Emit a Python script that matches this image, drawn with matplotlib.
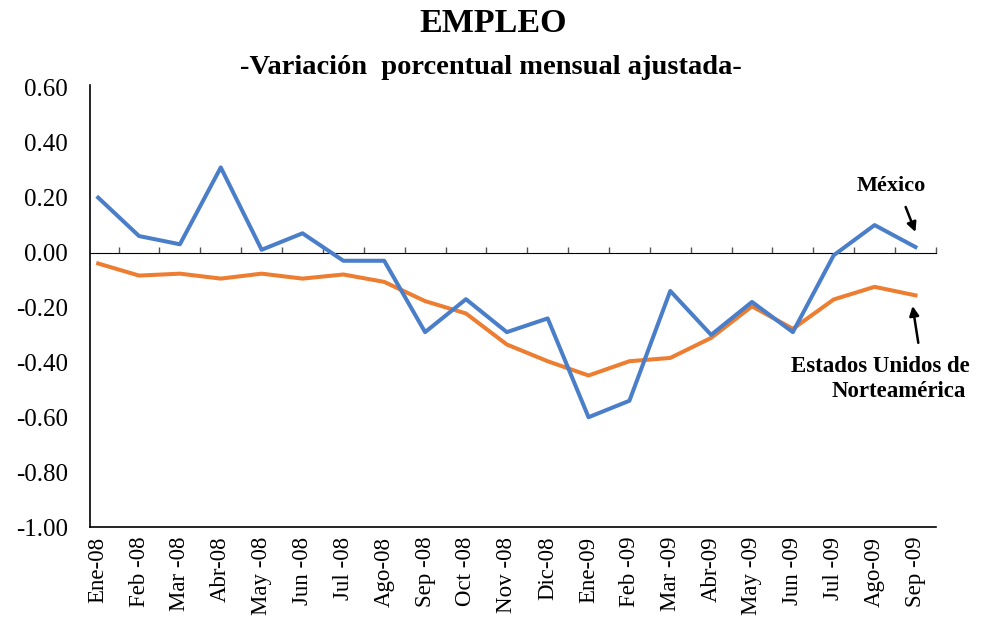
import matplotlib
matplotlib.use("Agg")
import matplotlib.pyplot as plt

plt.rcParams["font.family"] = "Liberation Serif"

# Monthly labels (Ene-08 .. Sep-09)
months = ["Ene-08", "Feb -08", "Mar -08", "Abr-08", "May -08", "Jun -08",
          "Jul -08", "Ago-08", "Sep -08", "Oct -08", "Nov -08", "Dic-08",
          "Ene-09", "Feb -09", "Mar -09", "Abr-09", "May -09", "Jun -09",
          "Jul -09", "Ago-09", "Sep -09"]

# Adjusted monthly percentage change in employment
mexico = [0.20, 0.06, 0.03, 0.31, 0.01, 0.07, -0.03, -0.03, -0.29, -0.17,
          -0.29, -0.24, -0.60, -0.54, -0.14, -0.30, -0.18, -0.29, -0.01,
          0.10, 0.02]
usa = [-0.04, -0.084, -0.077, -0.095, -0.077, -0.095, -0.08, -0.107, -0.177,
       -0.222, -0.335, -0.396, -0.448, -0.396, -0.384, -0.311, -0.196, -0.278,
       -0.171, -0.125, -0.156]

yticks = [0.60, 0.40, 0.20, 0.00, -0.20, -0.40, -0.60, -0.80, -1.00]

fig = plt.figure(figsize=(9.87, 6.26), dpi=100)
ax = fig.add_axes([0.0912, 0.1581, 0.857, 0.706])

x = list(range(len(months)))
ax.plot(x, mexico, color="#4A7EC9", lw=2.9, zorder=3)
ax.plot(x, usa, color="#ED7D31", lw=2.9, zorder=2)

ymin, ymax = -1.0, 0.61
ax.set_ylim(ymin, ymax)
ax.set_xlim(-0.2, 20.5)

# y axis
ax.set_yticks(yticks)
ax.set_yticklabels([f"{v:.2f}" for v in yticks], fontsize=18)
ax.tick_params(axis="y", length=0, pad=16)

# category labels at the bottom
ax.set_xticks(x)
ax.set_xticklabels(months, rotation=90, fontsize=16.5)
ax.tick_params(axis="x", length=0, pad=7)

for side in ["top", "right"]:
    ax.spines[side].set_visible(False)
ax.spines["left"].set_linewidth(1.2)
ax.spines["bottom"].set_linewidth(1.2)

# category axis drawn at zero, with ticks between categories
zero_pos = (0 - ymin) / (ymax - ymin)
sec = ax.secondary_xaxis(zero_pos)
sec.set_xticks([i + 0.5 for i in range(-1, len(months))])
sec.set_xticklabels([])
sec.tick_params(direction="out", length=4, width=1.0, color="#555555")
sec.spines["bottom"].set_color("#9a9a9a")
sec.spines["bottom"].set_linewidth(1.5)

# titles
fig.text(0.5, 0.988, "EMPLEO", ha="center", va="top", fontsize=24.5,
         fontweight="bold")
fig.text(0.497, 0.912, "-Variación  porcentual mensual ajustada-", ha="center",
         va="top", fontsize=20.5, fontweight="bold")

# series annotations
arrow = dict(arrowstyle="-|>", color="black", lw=1.8, mutation_scale=14,
             shrinkA=0, shrinkB=0)
ax.text(19.41, 0.243, "México", fontsize=16, fontweight="bold",
        ha="center", va="center")
ax.annotate("", xy=(20.0, 0.075), xytext=(19.76, 0.166), arrowprops=arrow)
ax.text(19.14, -0.415, "Estados Unidos de", fontsize=16.5, fontweight="bold",
        ha="center", va="center")
ax.text(19.58, -0.505, "Norteamérica", fontsize=16.5, fontweight="bold",
        ha="center", va="center")
ax.annotate("", xy=(19.93, -0.195), xytext=(20.07, -0.329), arrowprops=arrow)

fig.savefig("out.png", dpi=100)
